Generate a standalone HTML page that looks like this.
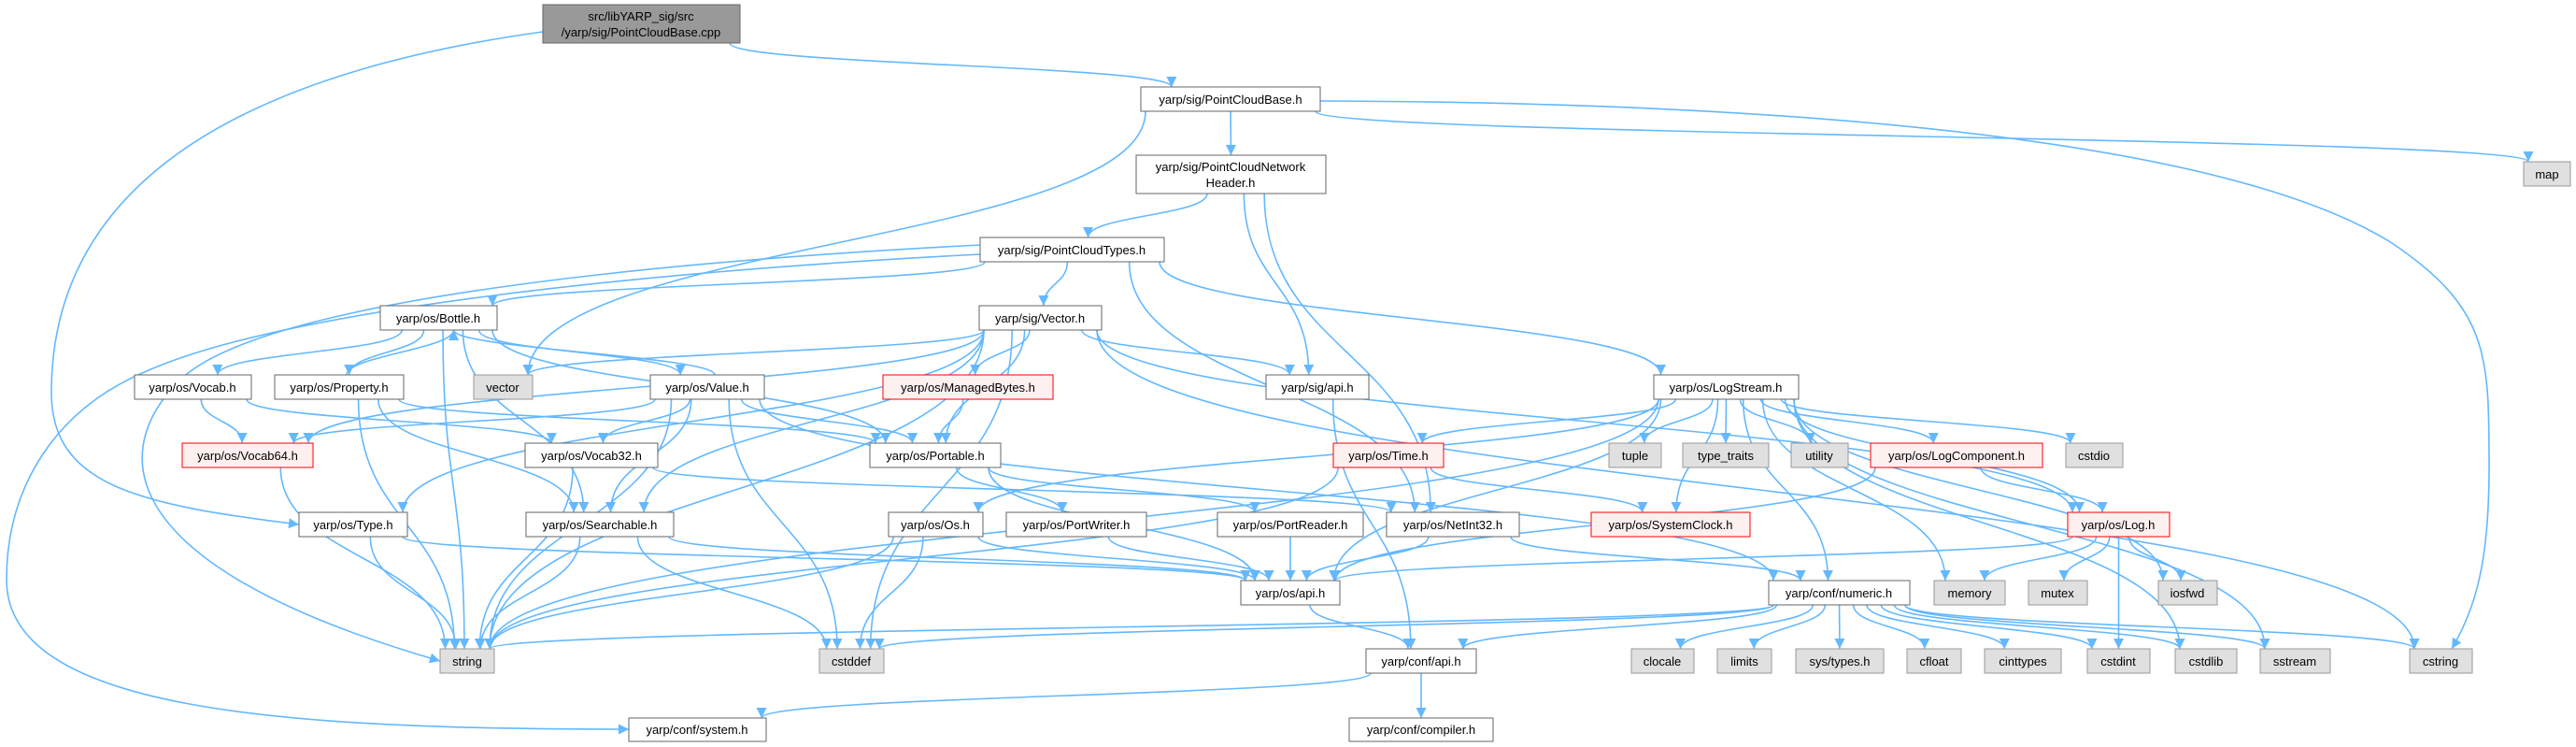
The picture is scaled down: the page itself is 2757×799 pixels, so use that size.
<!DOCTYPE html>
<html><head><meta charset="utf-8"><style>
html,body{margin:0;padding:0;background:#fff;}
svg{display:block;}
text{font-family:"Liberation Sans",sans-serif;font-size:13px;fill:#000;text-anchor:middle;}
</style></head><body>
<svg id="g" width="2757" height="799" viewBox="0 0 2757 799" xmlns="http://www.w3.org/2000/svg">
<defs><marker id="a" viewBox="0 0 10 10" refX="10" refY="5" markerWidth="11" markerHeight="11" orient="auto" markerUnits="userSpaceOnUse"><path d="M0,0 L10,5 L0,10 z" fill="#63b8ff"/></marker></defs>
<g id="edges" fill="none" stroke="#63b8ff" stroke-width="1.6">
<path d="M581,34 C250,80 55,200 55,420 C55,520 150,540 320,561" marker-end="url(#a)"/>
<path d="M1049,272 C700,290 300,330 150,400 C60,440 7,520 7,620 C7,760 300,780 673,780" marker-end="url(#a)"/>
<path d="M1049,262 C700,280 300,320 200,400 C120,470 100,600 471,707" marker-end="url(#a)"/>
<path d="M1413,108 C2000,110 2400,160 2560,260 C2664,330 2664,380 2664,500 C2664,600 2650,650 2624,694" marker-end="url(#a)"/>
</g>
<g id="edges2" fill="none" stroke="#63b8ff" stroke-width="1.6"></g>
<g id="nodes">
<rect x="581" y="5" width="211" height="41" fill="#999" stroke="#666"/><text x="686" y="22">src/libYARP_sig/src</text><text x="686" y="39">/yarp/sig/PointCloudBase.cpp</text>
<rect x="1221" y="93" width="192" height="26" fill="#fff" stroke="#666"/><text x="1317" y="111">yarp/sig/PointCloudBase.h</text>
<rect x="2701" y="173" width="50" height="26" fill="#e0e0e0" stroke="#999"/><text x="2726" y="191">map</text>
<rect x="1216" y="166" width="203" height="41" fill="#fff" stroke="#666"/><text x="1317" y="183">yarp/sig/PointCloudNetwork</text><text x="1317" y="200">Header.h</text>
<rect x="1049" y="254" width="197" height="26" fill="#fff" stroke="#666"/><text x="1147" y="272">yarp/sig/PointCloudTypes.h</text>
<rect x="407" y="327" width="125" height="26" fill="#fff" stroke="#666"/><text x="469" y="345">yarp/os/Bottle.h</text>
<rect x="1048" y="327" width="131" height="26" fill="#fff" stroke="#666"/><text x="1113" y="345">yarp/sig/Vector.h</text>
<rect x="144" y="401" width="125" height="26" fill="#fff" stroke="#666"/><text x="206" y="419">yarp/os/Vocab.h</text>
<rect x="294" y="401" width="138" height="26" fill="#fff" stroke="#666"/><text x="363" y="419">yarp/os/Property.h</text>
<rect x="507" y="401" width="63" height="26" fill="#e0e0e0" stroke="#999"/><text x="538" y="419">vector</text>
<rect x="696" y="401" width="122" height="26" fill="#fff" stroke="#666"/><text x="757" y="419">yarp/os/Value.h</text>
<rect x="945" y="401" width="182" height="26" fill="#fff0f0" stroke="#f00"/><text x="1036" y="419">yarp/os/ManagedBytes.h</text>
<rect x="1355" y="401" width="110" height="26" fill="#fff" stroke="#666"/><text x="1410" y="419">yarp/sig/api.h</text>
<rect x="1770" y="401" width="155" height="26" fill="#fff" stroke="#666"/><text x="1847" y="419">yarp/os/LogStream.h</text>
<rect x="195" y="474" width="140" height="26" fill="#fff0f0" stroke="#f00"/><text x="265" y="492">yarp/os/Vocab64.h</text>
<rect x="562" y="474" width="142" height="26" fill="#fff" stroke="#666"/><text x="633" y="492">yarp/os/Vocab32.h</text>
<rect x="931" y="474" width="140" height="26" fill="#fff" stroke="#666"/><text x="1001" y="492">yarp/os/Portable.h</text>
<rect x="1427" y="474" width="118" height="26" fill="#fff0f0" stroke="#f00"/><text x="1486" y="492">yarp/os/Time.h</text>
<rect x="1722" y="474" width="56" height="26" fill="#e0e0e0" stroke="#999"/><text x="1750" y="492">tuple</text>
<rect x="1801" y="474" width="92" height="26" fill="#e0e0e0" stroke="#999"/><text x="1847" y="492">type_traits</text>
<rect x="1917" y="474" width="61" height="26" fill="#e0e0e0" stroke="#999"/><text x="1947" y="492">utility</text>
<rect x="2002" y="474" width="184" height="26" fill="#fff0f0" stroke="#f00"/><text x="2094" y="492">yarp/os/LogComponent.h</text>
<rect x="2211" y="474" width="61" height="26" fill="#e0e0e0" stroke="#999"/><text x="2241" y="492">cstdio</text>
<rect x="320" y="548" width="116" height="26" fill="#fff" stroke="#666"/><text x="378" y="566">yarp/os/Type.h</text>
<rect x="563" y="548" width="158" height="26" fill="#fff" stroke="#666"/><text x="642" y="566">yarp/os/Searchable.h</text>
<rect x="951" y="548" width="101" height="26" fill="#fff" stroke="#666"/><text x="1001" y="566">yarp/os/Os.h</text>
<rect x="1077" y="548" width="150" height="26" fill="#fff" stroke="#666"/><text x="1152" y="566">yarp/os/PortWriter.h</text>
<rect x="1303" y="548" width="156" height="26" fill="#fff" stroke="#666"/><text x="1381" y="566">yarp/os/PortReader.h</text>
<rect x="1484" y="548" width="142" height="26" fill="#fff" stroke="#666"/><text x="1555" y="566">yarp/os/NetInt32.h</text>
<rect x="1703" y="548" width="170" height="26" fill="#fff0f0" stroke="#f00"/><text x="1788" y="566">yarp/os/SystemClock.h</text>
<rect x="2213" y="548" width="109" height="26" fill="#fff0f0" stroke="#f00"/><text x="2267" y="566">yarp/os/Log.h</text>
<rect x="1328" y="621" width="106" height="26" fill="#fff" stroke="#666"/><text x="1381" y="639">yarp/os/api.h</text>
<rect x="1893" y="621" width="151" height="26" fill="#fff" stroke="#666"/><text x="1968" y="639">yarp/conf/numeric.h</text>
<rect x="2070" y="621" width="76" height="26" fill="#e0e0e0" stroke="#999"/><text x="2108" y="639">memory</text>
<rect x="2171" y="621" width="63" height="26" fill="#e0e0e0" stroke="#999"/><text x="2202" y="639">mutex</text>
<rect x="2310" y="621" width="63" height="26" fill="#e0e0e0" stroke="#999"/><text x="2341" y="639">iosfwd</text>
<rect x="471" y="694" width="58" height="26" fill="#e0e0e0" stroke="#999"/><text x="500" y="712">string</text>
<rect x="877" y="694" width="69" height="26" fill="#e0e0e0" stroke="#999"/><text x="911" y="712">cstddef</text>
<rect x="1462" y="694" width="118" height="26" fill="#fff" stroke="#666"/><text x="1521" y="712">yarp/conf/api.h</text>
<rect x="1746" y="694" width="67" height="26" fill="#e0e0e0" stroke="#999"/><text x="1779" y="712">clocale</text>
<rect x="1838" y="694" width="58" height="26" fill="#e0e0e0" stroke="#999"/><text x="1867" y="712">limits</text>
<rect x="1922" y="694" width="94" height="26" fill="#e0e0e0" stroke="#999"/><text x="1969" y="712">sys/types.h</text>
<rect x="2041" y="694" width="58" height="26" fill="#e0e0e0" stroke="#999"/><text x="2070" y="712">cfloat</text>
<rect x="2124" y="694" width="82" height="26" fill="#e0e0e0" stroke="#999"/><text x="2165" y="712">cinttypes</text>
<rect x="2234" y="694" width="67" height="26" fill="#e0e0e0" stroke="#999"/><text x="2267" y="712">cstdint</text>
<rect x="2328" y="694" width="66" height="26" fill="#e0e0e0" stroke="#999"/><text x="2361" y="712">cstdlib</text>
<rect x="2419" y="694" width="75" height="26" fill="#e0e0e0" stroke="#999"/><text x="2456" y="712">sstream</text>
<rect x="2579" y="694" width="67" height="26" fill="#e0e0e0" stroke="#999"/><text x="2612" y="712">cstring</text>
<rect x="673" y="768" width="147" height="25" fill="#fff" stroke="#666"/><text x="746" y="785">yarp/conf/system.h</text>
<rect x="1444" y="768" width="154" height="25" fill="#fff" stroke="#666"/><text x="1521" y="785">yarp/conf/compiler.h</text>
</g>
</svg>
<script>
var N={root:[581,792,5,46],pcb:[1221,1413,93,119],map:[2701,2751,173,199],pcnh:[1216,1419,166,207],pct:[1049,1246,254,280],bottle:[407,532,327,353],vector_h:[1048,1179,327,353],vocab:[144,269,401,427],property:[294,432,401,427],vector:[507,570,401,427],value:[696,818,401,427],mb:[945,1127,401,427],sigapi:[1355,1465,401,427],logstream:[1770,1925,401,427],vocab64:[195,335,474,500],vocab32:[562,704,474,500],portable:[931,1071,474,500],time:[1427,1545,474,500],tuple:[1722,1778,474,500],tt:[1801,1893,474,500],utility:[1917,1978,474,500],logcomp:[2002,2186,474,500],cstdio:[2211,2272,474,500],type:[320,436,548,574],searchable:[563,721,548,574],os:[951,1052,548,574],pw:[1077,1227,548,574],pr:[1303,1459,548,574],netint:[1484,1626,548,574],sysclock:[1703,1873,548,574],log:[2213,2322,548,574],osapi:[1328,1434,621,647],numeric:[1893,2044,621,647],memory:[2070,2146,621,647],mutex:[2171,2234,621,647],iosfwd:[2310,2373,621,647],string:[471,529,694,720],cstddef:[877,946,694,720],confapi:[1462,1580,694,720],clocale:[1746,1813,694,720],limits:[1838,1896,694,720],systypes:[1922,2016,694,720],cfloat:[2041,2099,694,720],cinttypes:[2124,2206,694,720],cstdint:[2234,2301,694,720],cstdlib:[2328,2394,694,720],sstream:[2419,2494,694,720],cstring:[2579,2646,694,720],system:[673,820,768,793],compiler:[1444,1598,768,793]};
var E="root pcb,pcb pcnh,pcb vector,pcb map,pcnh pct,pcnh sigapi,pcnh netint,pct bottle,pct vector_h,pct logstream,pct netint,bottle vocab,bottle property,bottle value,bottle string,bottle portable,bottle searchable,property bottle,value bottle,vector_h vector,vector_h mb,vector_h sigapi,vector_h portable,vector_h vocab64,vector_h type,vector_h string,vector_h cstddef,vector_h cstring,vector_h log,vector_h searchable,value vocab32,value searchable,value portable,value string,value cstddef,value vocab64,value numeric,vocab vocab64,vocab vocab32,property portable,property searchable,property string,vocab64 string,vocab32 string,vocab32 netint,mb portable,portable pw,portable pr,portable osapi,type string,type osapi,searchable string,searchable cstddef,searchable osapi,os string,os cstddef,os osapi,pw osapi,pr osapi,netint osapi,netint numeric,sigapi confapi,logstream time,logstream sysclock,logstream tuple,logstream tt,logstream utility,logstream logcomp,logstream cstdio,logstream log,logstream memory,logstream iosfwd,logstream cstdlib,logstream sstream,logstream string,logstream osapi,logstream os,logstream numeric,time sysclock,time string,logcomp log,logcomp osapi,log osapi,log memory,log mutex,log iosfwd,log cstdint,osapi confapi,numeric string,numeric cstddef,numeric confapi,numeric clocale,numeric limits,numeric systypes,numeric cfloat,numeric cinttypes,numeric cstdint,numeric cstdlib,numeric sstream,numeric cstring,confapi system,confapi compiler".split(",");
var g=document.getElementById("edges2"),s="";
E.forEach(function(e){var p=e.split(" "),a=N[p[0]],b=N[p[1]];
var ax=(a[0]+a[1])/2,bx=(b[0]+b[1])/2,d;
if(b[2]>=a[3]){var y1=a[3],y2=b[2],sx=ax+(bx-ax)*0.15;sx=Math.max(a[0]+5,Math.min(a[1]-5,sx));var tx=bx-(bx-ax)*0.1;tx=Math.max(b[0]+5,Math.min(b[1]-5,tx));var m=(y2-y1)*0.5;d="M"+sx+","+y1+" C"+sx+","+(y1+m)+" "+tx+","+(y2-m)+" "+tx+","+y2;}
else{var y1=a[2],y2=b[3];var off=8;var sx=ax+off,tx=bx+off*2;d="M"+sx+","+y1+" C"+sx+","+(y1-20)+" "+tx+","+(y2+20)+" "+tx+","+y2;}
s+='<path d="'+d+'" marker-end="url(#a)"/>';});
g.innerHTML=s;
</script>
</body></html>
